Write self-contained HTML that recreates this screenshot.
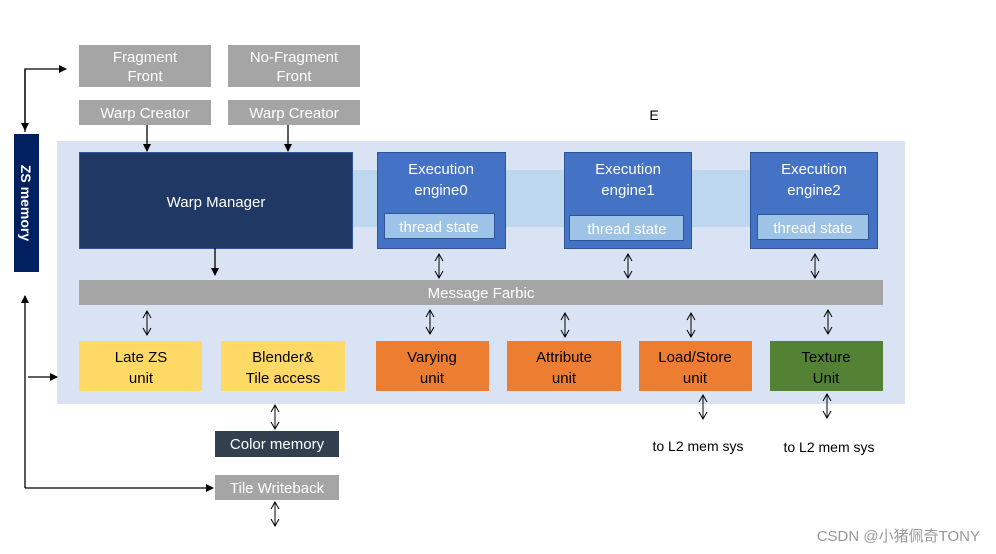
<!DOCTYPE html>
<html><head><meta charset="utf-8"><style>
body{margin:0;background:#fff;}
svg{display:block;font-family:"Liberation Sans","Noto Sans CJK SC",sans-serif;}
</style></head><body>
<svg width="996" height="554" viewBox="0 0 996 554" xmlns="http://www.w3.org/2000/svg">
<defs>
<marker id="a" markerWidth="8" markerHeight="8" refX="7" refY="4" orient="auto" markerUnits="userSpaceOnUse"><path d="M0,0 L8,4 L0,8 z" fill="#000"/></marker>
<path id="d" d="M0,0 V24 M-4,7 L0,0 L4,7 M-4,17 L0,24 L4,17"/>
</defs>
<rect x="57" y="141" width="848" height="263" fill="#dae3f3"/>
<rect x="352" y="170" width="398" height="57" fill="#bdd7ee"/>
<g font-size="15" text-anchor="middle" fill="#fff">
<rect x="79" y="45" width="132" height="42" fill="#a5a5a5"/><text x="145" y="62">Fragment</text><text x="145" y="81">Front</text>
<rect x="228" y="45" width="132" height="42" fill="#a5a5a5"/><text x="294" y="62">No-Fragment</text><text x="294" y="81">Front</text>
<rect x="79" y="100" width="132" height="25" fill="#a5a5a5"/><text x="145" y="118">Warp Creator</text>
<rect x="228" y="100" width="132" height="25" fill="#a5a5a5"/><text x="294" y="118">Warp Creator</text>
<rect x="79.5" y="152.5" width="273" height="96" fill="#203864" stroke="#2f5597"/><text x="216" y="207">Warp Manager</text>
<rect x="377.5" y="152.5" width="128" height="96" fill="#4472c4" stroke="#2f5597"/><text x="441" y="174">Execution</text><text x="441" y="195">engine0</text>
<rect x="384.5" y="213.5" width="110" height="25" fill="#9dc3e6" stroke="#2f5597"/><text x="439" y="232">thread state</text>
<rect x="564.5" y="152.5" width="127" height="96" fill="#4472c4" stroke="#2f5597"/><text x="628" y="174">Execution</text><text x="628" y="195">engine1</text>
<rect x="569.5" y="215.5" width="114" height="25" fill="#9dc3e6" stroke="#2f5597"/><text x="627" y="234">thread state</text>
<rect x="750.5" y="152.5" width="127" height="96" fill="#4472c4" stroke="#2f5597"/><text x="814" y="174">Execution</text><text x="814" y="195">engine2</text>
<rect x="757.5" y="214.5" width="111" height="25" fill="#9dc3e6" stroke="#2f5597"/><text x="813" y="233">thread state</text>
<rect x="79" y="280" width="804" height="25" fill="#a5a5a5"/><text x="481" y="298">Message Farbic</text>
<rect x="14" y="134" width="25" height="138" fill="#002060"/>
<text transform="translate(21,203) rotate(90)" font-weight="bold" font-size="14">ZS memory</text>
<rect x="215" y="431" width="124" height="26" fill="#323f4f"/><text x="277" y="449">Color memory</text>
<rect x="215" y="475" width="124" height="25" fill="#a5a5a5"/><text x="277" y="493">Tile Writeback</text>
</g>
<g font-size="15" text-anchor="middle" fill="#000">
<rect x="79" y="341" width="123" height="50" fill="#ffd966"/><text x="141" y="362">Late ZS</text><text x="141" y="383">unit</text>
<rect x="221" y="341" width="124" height="50" fill="#ffd966"/><text x="283" y="362">Blender&amp;</text><text x="283" y="383">Tile access</text>
<rect x="376" y="341" width="113" height="50" fill="#ed7d31"/><text x="432" y="362">Varying</text><text x="432" y="383">unit</text>
<rect x="507" y="341" width="114" height="50" fill="#ed7d31"/><text x="564" y="362">Attribute</text><text x="564" y="383">unit</text>
<rect x="639" y="341" width="113" height="50" fill="#ed7d31"/><text x="695" y="362">Load/Store</text><text x="695" y="383">unit</text>
<rect x="770" y="341" width="113" height="50" fill="#548235"/><text x="826" y="362">Texture</text><text x="826" y="383">Unit</text>
<text x="654" y="120" font-size="14">E</text>
<text x="698" y="451" font-size="14">to L2 mem sys</text>
<text x="829" y="452" font-size="14">to L2 mem sys</text>
<text x="980" y="541" font-size="15" fill="#999" text-anchor="end">CSDN @小猪佩奇TONY</text>
</g>
<g stroke="#000" stroke-width="1.3" fill="none">
<path d="M25,132 V69 H66" marker-end="url(#a)"/>
<path d="M25,69 V130" marker-end="url(#a)"/>
<path d="M25,488 V296" marker-end="url(#a)"/>
<path d="M25,488 H213" marker-end="url(#a)"/>
<path d="M28,377 H57" marker-end="url(#a)"/>
<path d="M147,125 V151" marker-end="url(#a)"/>
<path d="M288,125 V151" marker-end="url(#a)"/>
<path d="M215,248 V275" marker-end="url(#a)"/>
</g>
<g stroke="#000" stroke-width="1" fill="none">
<use href="#d" x="439" y="254"/>
<use href="#d" x="628" y="254"/>
<use href="#d" x="815" y="254"/>
<use href="#d" x="147" y="311"/>
<use href="#d" x="430" y="310"/>
<use href="#d" x="565" y="313"/>
<use href="#d" x="691" y="313"/>
<use href="#d" x="828" y="310"/>
<use href="#d" x="275" y="405"/>
<use href="#d" x="275" y="502"/>
<use href="#d" x="703" y="395"/>
<use href="#d" x="827" y="394"/>
</g>
</svg>
</body></html>
